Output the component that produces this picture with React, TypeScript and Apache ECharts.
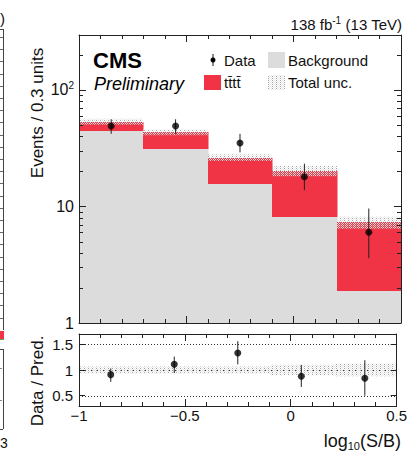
import React, { useEffect, useRef } from 'react';
import * as echarts from 'echarts';

// ---- data ----
const binEdges = [-1, -0.7, -0.4, -0.1, 0.2, 0.5];
const background = [44.7, 31.0, 15.5, 8.2, 1.9];
const signal = [8.8, 12.4, 10.7, 12.0, 5.4];
const totalUnc = [0.06, 0.06, 0.065, 0.1, 0.12];
const dataX = [-0.85, -0.55, -0.25, 0.05, 0.35];
const dataY = [49, 49, 35, 18, 6];
const dataErrLow = [7, 7, 5.9, 4.2, 2.4];
const dataErrHigh = [7, 7, 7, 5.3, 3.6];
const ratioY = [0.91, 1.11, 1.33, 0.88, 0.84];
const ratioLow = [0.77, 0.94, 1.11, 0.67, 0.5];
const ratioHigh = [1.03, 1.26, 1.56, 1.1, 1.19];
const ratioUnc = [0.07, 0.07, 0.07, 0.1, 0.12];
const logMinorTicks = [2, 3, 4, 5, 6, 7, 8, 9, 20, 30, 40, 50, 60, 70, 80, 90, 200];
const ratioRefLines = [0.5, 1, 1.5];

const FONT = 'Liberation Sans, Arial, Helvetica, sans-serif';
const AXC = '#222';
const RED = '#f03345';
const GRAY = '#dcdcdc';

function makeHatch(): HTMLCanvasElement {
  const c = document.createElement('canvas');
  c.width = 4;
  c.height = 4;
  const ctx = c.getContext('2d')!;
  for (let x = 0; x < 4; x++) {
    for (let y = 0; y < 4; y++) {
      if ((x + y) % 2 === 0) {
        ctx.fillStyle = (x + 2 * y) % 4 === 0 ? 'rgba(160,160,160,0.95)' : 'rgba(230,230,230,0.92)';
        ctx.fillRect(x, y, 1, 1);
      }
    }
  }
  return c;
}

const R = Math.round;

export default function App() {
  const ref = useRef<HTMLDivElement>(null);
  useEffect(() => {
    const chart = echarts.init(ref.current!, null, { renderer: 'svg' });
    const hatchFill: any = { image: makeHatch(), repeat: 'repeat', imageWidth: 4, imageHeight: 4 };
    const lineStyle = { color: AXC, width: 1 };

    const xAxisDef = (grid: number, pos: string, labels: boolean) => ({
      type: 'value',
      gridIndex: grid,
      position: pos,
      min: -1,
      max: 0.5,
      interval: 0.5,
      z: 10,
      axisLine: { show: true, onZero: false, lineStyle },
      axisTick: { show: true, inside: true, length: 7, lineStyle },
      minorTick: { show: true, splitNumber: 5, length: 4, lineStyle },
      splitLine: { show: false },
      minorSplitLine: { show: false },
      axisLabel: labels
        ? {
            show: true,
            fontFamily: FONT,
            fontSize: 15,
            color: '#111',
            margin: 2,
            formatter: (v: number) => (v < 0 ? '\u2212' + String(-v) : String(v)),
          }
        : { show: false },
    });

    const logFmt = (v: number) => {
      if (Math.abs(v - 1) < 1e-6) return '1';
      if (Math.abs(v - 10) < 1e-6) return '10';
      if (Math.abs(v - 100) < 1e-4) return '{b|10}{s|2}';
      return '';
    };

    const yLog = (pos: string, labels: boolean) => ({
      type: 'log',
      logBase: 10,
      gridIndex: 0,
      position: pos,
      min: 1,
      max: 296,
      z: 10,
      axisLine: { show: true, onZero: false, lineStyle },
      axisTick: { show: true, inside: true, length: 7, lineStyle },
      splitLine: { show: false },
      axisLabel: labels
        ? {
            show: true,
            fontFamily: FONT,
            fontSize: 16,
            color: '#111',
            margin: 5,
            formatter: logFmt,
            rich: {
              b: { fontFamily: FONT, fontSize: 16, color: '#111' },
              s: { fontFamily: FONT, fontSize: 10, color: '#111', padding: [0, 0, 9, 0] },
            },
          }
        : { show: false },
    });

    const yRatio = (pos: string, labels: boolean) => ({
      type: 'value',
      gridIndex: 1,
      position: pos,
      min: 0.3,
      max: 1.7,
      splitNumber: 3,
      z: 10,
      axisLine: { show: true, onZero: false, lineStyle },
      axisTick: { show: true, inside: true, length: 6, lineStyle },
      splitLine: { show: false },
      axisLabel: labels
        ? {
            show: true,
            fontFamily: FONT,
            fontSize: 15,
            color: '#111',
            margin: 6,
            formatter: (v: number) =>
              ratioRefLines.some((r) => Math.abs(r - v) < 1e-6) ? String(v) : '',
          }
        : { show: false },
    });

    const histData = background.map((b, i) => [binEdges[i], binEdges[i + 1], b, signal[i], totalUnc[i]]);
    const ratioBand = ratioUnc.map((u, i) => [binEdges[i], binEdges[i + 1], u]);
    const errData = dataX.map((x, i) => [x, dataY[i], dataY[i] - dataErrLow[i], dataY[i] + dataErrHigh[i]]);
    const ratioErr = dataX.map((x, i) => [x, ratioY[i], ratioLow[i], ratioHigh[i]]);

    // left partial neighbouring figure (decoration)
    const leftDeco: any[] = [];
    leftDeco.push({ type: 'line', shape: { x1: 3.5, y1: 29, x2: 3.5, y2: 330 }, style: { stroke: '#444', lineWidth: 1 } });
    leftDeco.push({ type: 'line', shape: { x1: 0, y1: 29.5, x2: 3, y2: 29.5 }, style: { stroke: '#444', lineWidth: 1 } });
    for (let y = 37; y < 328; y += 12.2) {
      leftDeco.push({ type: 'line', shape: { x1: 0, y1: R(y) + 0.5, x2: 3, y2: R(y) + 0.5 }, style: { stroke: '#666', lineWidth: 1 } });
    }
    leftDeco.push({ type: 'rect', shape: { x: 0, y: 331, width: 4, height: 8 }, style: { fill: RED } });
    leftDeco.push({ type: 'line', shape: { x1: 0, y1: 339.5, x2: 4, y2: 339.5 }, style: { stroke: '#6a4', lineWidth: 1 } });
    leftDeco.push({ type: 'line', shape: { x1: 3.5, y1: 349, x2: 3.5, y2: 429 }, style: { stroke: '#444', lineWidth: 1 } });
    leftDeco.push({ type: 'line', shape: { x1: 0, y1: 349.5, x2: 3, y2: 349.5 }, style: { stroke: '#444', lineWidth: 1 } });
    leftDeco.push({ type: 'line', shape: { x1: 0, y1: 429.5, x2: 3, y2: 429.5 }, style: { stroke: '#444', lineWidth: 1 } });
    leftDeco.push({ type: 'line', shape: { x1: 0, y1: 368.5, x2: 2, y2: 368.5 }, style: { stroke: '#888', lineWidth: 1 } });
    leftDeco.push({ type: 'line', shape: { x1: 0, y1: 400.5, x2: 2, y2: 400.5 }, style: { stroke: '#888', lineWidth: 1 } });
    leftDeco.push({ type: 'text', x: 0, y: 18, style: { text: ')', fontFamily: FONT, fontSize: 15, fill: '#111', textVerticalAlign: 'middle' } });
    leftDeco.push({ type: 'text', x: 0, y: 443, style: { text: '3', fontFamily: FONT, fontSize: 14, fill: '#111', textVerticalAlign: 'middle' } });

    const option: any = {
      animation: false,
      backgroundColor: '#fff',
      grid: [
        { left: 79, top: 35, width: 322, height: 288 },
        { left: 79, top: 334, width: 322, height: 72 },
      ],
      xAxis: [xAxisDef(0, 'bottom', false), xAxisDef(0, 'top', false), xAxisDef(1, 'bottom', true), xAxisDef(1, 'top', false)],
      yAxis: [yLog('left', true), yLog('right', false), yRatio('left', true), yRatio('right', false)],
      series: [
        {
          type: 'custom',
          xAxisIndex: 0,
          yAxisIndex: 0,
          encode: { x: [0, 1], y: [2] },
          data: histData,
          z: 2,
          renderItem: (_p: any, api: any) => {
            const lo = api.value(0), hi = api.value(1), bg = api.value(2), sig = api.value(3);
            const a = api.coord([lo, 1]);
            const b = api.coord([hi, bg]);
            const c = api.coord([hi, bg + sig]);
            const x0 = R(a[0]), x1 = R(b[0]), y0 = R(a[1]), y1 = R(b[1]), y2 = R(c[1]);
            return {
              type: 'group',
              children: [
                { type: 'rect', shape: { x: x0, y: y1, width: x1 - x0 + 0.5, height: y0 - y1 }, style: { fill: GRAY } },
                { type: 'rect', shape: { x: x0, y: y2, width: x1 - x0 + 0.5, height: y1 - y2 }, style: { fill: RED } },
              ],
            };
          },
        },
        {
          type: 'custom',
          xAxisIndex: 0,
          yAxisIndex: 0,
          encode: { x: [0, 1], y: [2] },
          data: histData,
          z: 3,
          renderItem: (_p: any, api: any) => {
            const lo = api.value(0), hi = api.value(1), bg = api.value(2), sig = api.value(3), u = api.value(4);
            const tot = bg + sig;
            const a = api.coord([lo, tot * (1 + u)]);
            const b = api.coord([hi, tot * (1 - u)]);
            return { type: 'rect', shape: { x: R(a[0]), y: a[1], width: R(b[0]) - R(a[0]), height: b[1] - a[1] }, style: { fill: hatchFill } };
          },
        },
        {
          type: 'custom',
          xAxisIndex: 0,
          yAxisIndex: 0,
          encode: { x: 0, y: [2, 3] },
          data: errData,
          z: 4,
          renderItem: (_p: any, api: any) => {
            const lo = api.coord([api.value(0), api.value(2)]);
            const hi = api.coord([api.value(0), api.value(3)]);
            return { type: 'line', shape: { x1: lo[0], y1: lo[1], x2: hi[0], y2: hi[1] }, style: { stroke: '#222', lineWidth: 1 } };
          },
        },
        {
          type: 'scatter',
          xAxisIndex: 0,
          yAxisIndex: 0,
          symbol: 'circle',
          symbolSize: 7,
          itemStyle: { color: '#000' },
          data: dataX.map((x, i) => [x, dataY[i]]),
          z: 5,
        },
        {
          type: 'custom',
          xAxisIndex: 0,
          yAxisIndex: 0,
          encode: { x: 0, y: 1 },
          data: logMinorTicks.map((v) => [-1, v]),
          z: 11,
          renderItem: (_p: any, api: any) => {
            const v = api.value(1);
            const l = api.coord([-1, v]);
            const r = api.coord([0.5, v]);
            const y = R(l[1]) + 0.5;
            return {
              type: 'group',
              children: [
                { type: 'line', shape: { x1: l[0], y1: y, x2: l[0] + 4, y2: y }, style: { stroke: AXC, lineWidth: 1 } },
                { type: 'line', shape: { x1: r[0] - 4, y1: y, x2: r[0], y2: y }, style: { stroke: AXC, lineWidth: 1 } },
              ],
            };
          },
        },
        // ratio panel
        {
          type: 'custom',
          xAxisIndex: 2,
          yAxisIndex: 2,
          encode: { x: 0, y: 1 },
          data: ratioRefLines.map((v) => [-1, v]),
          z: 2,
          renderItem: (_p: any, api: any) => {
            const v = api.value(1);
            const l = api.coord([-1, v]);
            const r = api.coord([0.5, v]);
            const y = R(l[1]) + 0.5;
            return { type: 'line', shape: { x1: l[0], y1: y, x2: r[0], y2: y }, style: { stroke: '#333', lineWidth: 1, lineDash: [1, 2] } };
          },
        },
        {
          type: 'custom',
          xAxisIndex: 2,
          yAxisIndex: 2,
          encode: { x: [0, 1], y: 2 },
          data: ratioBand,
          z: 3,
          renderItem: (_p: any, api: any) => {
            const lo = api.value(0), hi = api.value(1), u = api.value(2);
            const a = api.coord([lo, 1 + u]);
            const b = api.coord([hi, 1 - u]);
            return { type: 'rect', shape: { x: R(a[0]), y: a[1], width: R(b[0]) - R(a[0]), height: b[1] - a[1] }, style: { fill: hatchFill } };
          },
        },
        {
          type: 'custom',
          xAxisIndex: 2,
          yAxisIndex: 2,
          encode: { x: 0, y: [2, 3] },
          data: ratioErr,
          z: 4,
          renderItem: (_p: any, api: any) => {
            const lo = api.coord([api.value(0), api.value(2)]);
            const hi = api.coord([api.value(0), api.value(3)]);
            return { type: 'line', shape: { x1: lo[0], y1: lo[1], x2: hi[0], y2: hi[1] }, style: { stroke: '#222', lineWidth: 1 } };
          },
        },
        {
          type: 'scatter',
          xAxisIndex: 2,
          yAxisIndex: 2,
          symbol: 'circle',
          symbolSize: 7,
          itemStyle: { color: '#000' },
          data: dataX.map((x, i) => [x, ratioY[i]]),
          z: 5,
        },
      ],
      graphic: [
        ...leftDeco,
        {
          type: 'text', x: 402, y: 24,
          style: {
            text: '{a|138 fb}{s|-1}{a| (13 TeV)}', textAlign: 'right', textVerticalAlign: 'middle',
            rich: {
              a: { fontFamily: FONT, fontSize: 15, fill: '#111' },
              s: { fontFamily: FONT, fontSize: 10, fill: '#111', padding: [0, 0, 8, 0] },
            },
          },
        },
        { type: 'text', x: 93, y: 60, style: { text: 'CMS', fontFamily: FONT, fontSize: 22, fontWeight: 'bold', fill: '#000', textVerticalAlign: 'middle' } },
        { type: 'text', x: 94, y: 84, style: { text: 'Preliminary', fontFamily: FONT, fontSize: 18, fontStyle: 'italic', fill: '#000', textVerticalAlign: 'middle' } },
        // legend
        { type: 'line', shape: { x1: 213, y1: 54, x2: 213, y2: 66 }, style: { stroke: '#111', lineWidth: 1 } },
        { type: 'circle', shape: { cx: 213, cy: 60, r: 2.5 }, style: { fill: '#000' } },
        { type: 'text', x: 224, y: 60, style: { text: 'Data', fontFamily: FONT, fontSize: 15, fill: '#111', textVerticalAlign: 'middle' } },
        { type: 'rect', shape: { x: 268, y: 52, width: 17, height: 16 }, style: { fill: GRAY } },
        { type: 'text', x: 288, y: 60, style: { text: 'Background', fontFamily: FONT, fontSize: 15, fill: '#111', textVerticalAlign: 'middle' } },
        { type: 'rect', shape: { x: 204, y: 75, width: 17, height: 15 }, style: { fill: RED } },
        { type: 'text', x: 224, y: 82, style: { text: 'tt\u0304tt\u0304', fontFamily: FONT, fontSize: 15, fill: '#111', textVerticalAlign: 'middle' } },
        { type: 'rect', shape: { x: 268, y: 75, width: 17, height: 15 }, style: { fill: hatchFill } },
        { type: 'text', x: 288, y: 82, style: { text: 'Total unc.', fontFamily: FONT, fontSize: 15, fill: '#111', textVerticalAlign: 'middle' } },
        // axis titles
        { type: 'text', x: 37, y: 113, rotation: Math.PI / 2, style: { text: 'Events / 0.3 units', fontFamily: FONT, fontSize: 17, fill: '#111', textAlign: 'center', textVerticalAlign: 'middle' } },
        { type: 'text', x: 37, y: 381, rotation: Math.PI / 2, style: { text: 'Data / Pred.', fontFamily: FONT, fontSize: 17, fill: '#111', textAlign: 'center', textVerticalAlign: 'middle' } },
        {
          type: 'text', x: 401, y: 441,
          style: {
            text: '{a|log}{s|10}{a|(S/B)}', textAlign: 'right', textVerticalAlign: 'middle',
            rich: {
              a: { fontFamily: FONT, fontSize: 18, fill: '#111' },
              s: { fontFamily: FONT, fontSize: 11, fill: '#111', padding: [9, 0, 0, 0] },
            },
          },
        },
      ],
    };
    chart.setOption(option);
    return () => chart.dispose();
  }, []);
  return <div ref={ref} style={{ position: 'absolute', left: 0, top: 0, width: 410, height: 451 }} />;
}
